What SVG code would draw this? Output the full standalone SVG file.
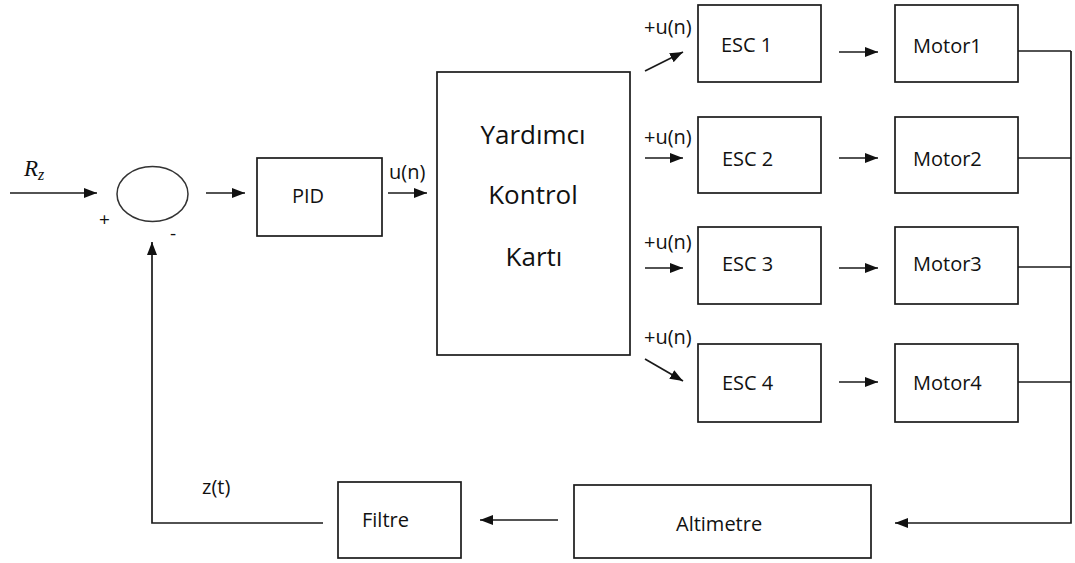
<svg xmlns="http://www.w3.org/2000/svg" width="1075" height="563" viewBox="0 0 1075 563">
<style>
  .box{fill:#fff;stroke:#1a1a1a;stroke-width:1.7}
  .ln{fill:none;stroke:#1a1a1a;stroke-width:1.7}
  .t{font-family:"Open Sans","Liberation Sans",sans-serif;font-size:20px;fill:#111}
  .big{font-family:"Open Sans","Liberation Sans",sans-serif;font-size:26px;fill:#111;text-anchor:middle}
</style>
<defs>
  <marker id="ah" markerUnits="userSpaceOnUse" markerWidth="14" markerHeight="11" refX="13" refY="5" orient="auto">
    <path d="M0,0 L13,5 L0,10 z" fill="#111"/>
  </marker>
</defs>
<rect width="1075" height="563" fill="#fff"/>

<g id="input">
  <text x="24" y="176" font-family="'Liberation Serif',serif" font-style="italic" font-size="23" fill="#111">R<tspan font-size="16" dy="4">z</tspan></text>
</g>
<g id="sum">
  <ellipse cx="152.5" cy="194" rx="35.5" ry="27.5" fill="#fff" stroke="#333" stroke-width="1.5"/>
  <text x="99" y="226" font-family="'Open Sans','Liberation Sans',sans-serif" font-size="19" fill="#111">+</text>
  <text x="170" y="240" font-family="'Open Sans','Liberation Sans',sans-serif" font-size="19" fill="#111">-</text>
</g>
<g id="pid">
  <rect class="box" x="257" y="158" width="125" height="78"/>
  <text class="t" x="292" y="203">PID</text>
</g>
<g id="kart">
  <rect class="box" x="437" y="72" width="193" height="283"/>
  <text class="big" x="533" y="144">Yardımcı</text>
  <text class="big" x="533" y="204">Kontrol</text>
  <text class="big" x="534" y="266">Kartı</text>
</g>
<g id="esc1"><rect class="box" x="698" y="5" width="123" height="77"/><text class="t" x="721" y="52">ESC 1</text></g>
<g id="esc2"><rect class="box" x="698" y="117" width="123" height="76"/><text class="t" x="722" y="166">ESC 2</text></g>
<g id="esc3"><rect class="box" x="698" y="227" width="123" height="77"/><text class="t" x="722" y="271">ESC 3</text></g>
<g id="esc4"><rect class="box" x="698" y="344" width="123" height="78"/><text class="t" x="722" y="390">ESC 4</text></g>
<g id="motor1"><rect class="box" x="895" y="5" width="123" height="77"/><text class="t" x="913" y="53">Motor1</text></g>
<g id="motor2"><rect class="box" x="895" y="117" width="123" height="76"/><text class="t" x="913" y="166">Motor2</text></g>
<g id="motor3"><rect class="box" x="895" y="227" width="123" height="77"/><text class="t" x="913" y="271">Motor3</text></g>
<g id="motor4"><rect class="box" x="895" y="344" width="123" height="78"/><text class="t" x="913" y="390">Motor4</text></g>
<g id="altimetre"><rect class="box" x="574" y="485" width="297" height="73"/><text class="t" x="676" y="531">Altimetre</text></g>
<g id="filtre"><rect class="box" x="338" y="482" width="123" height="76"/><text class="t" x="362" y="527">Filtre</text></g>

<g id="connectors">
  <line class="ln" x1="10" y1="193" x2="97" y2="193" marker-end="url(#ah)"/>
  <line class="ln" x1="206" y1="193" x2="245" y2="193" marker-end="url(#ah)"/>
  <line class="ln" x1="388" y1="193" x2="427" y2="193" marker-end="url(#ah)"/>
  <line class="ln" x1="645" y1="71" x2="683" y2="52" marker-end="url(#ah)"/>
  <line class="ln" x1="645" y1="158" x2="683" y2="158" marker-end="url(#ah)"/>
  <line class="ln" x1="645" y1="268" x2="683" y2="268" marker-end="url(#ah)"/>
  <line class="ln" x1="645" y1="359" x2="683" y2="381" marker-end="url(#ah)"/>
  <line class="ln" x1="839" y1="52" x2="878" y2="52" marker-end="url(#ah)"/>
  <line class="ln" x1="839" y1="158" x2="878" y2="158" marker-end="url(#ah)"/>
  <line class="ln" x1="839" y1="268" x2="878" y2="268" marker-end="url(#ah)"/>
  <line class="ln" x1="839" y1="382" x2="878" y2="382" marker-end="url(#ah)"/>
  <polyline class="ln" points="1018,51 1071,51"/>
  <polyline class="ln" points="1018,158 1071,158"/>
  <polyline class="ln" points="1018,267 1071,267"/>
  <polyline class="ln" points="1018,382 1071,382"/>
  <polyline class="ln" points="1071,51 1071,523 895,523" marker-end="url(#ah)"/>
  <line class="ln" x1="558" y1="520" x2="480" y2="520" marker-end="url(#ah)"/>
  <polyline class="ln" points="323,523 152,523 152,242" marker-end="url(#ah)"/>
  <text class="t" x="389" y="179">u(n)</text>
  <text class="t" x="644" y="34">+u(n)</text>
  <text class="t" x="644" y="144">+u(n)</text>
  <text class="t" x="644" y="249">+u(n)</text>
  <text class="t" x="644" y="344">+u(n)</text>
  <text class="t" x="202" y="494">z(t)</text>
</g>
</svg>
